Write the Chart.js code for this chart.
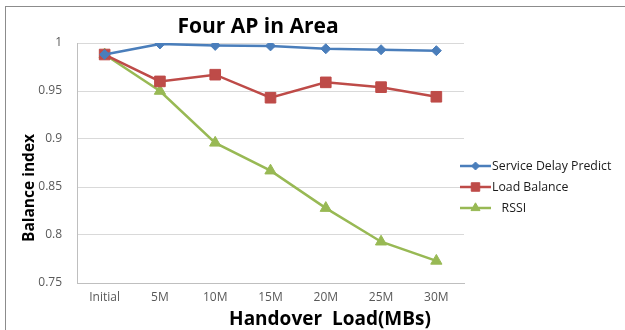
<!DOCTYPE html>
<html><head><meta charset="utf-8">
<script src="https://cdn.jsdelivr.net/npm/chart.js@4"></script>
<style>html,body{margin:0;padding:0;background:#fff}#wrap{width:625px;height:330px}</style>
</head><body><div id="wrap"><canvas id="c" width="625" height="330"></canvas></div>
<script>
const categories = ['Initial','5M','10M','15M','20M','25M','30M'];
const serviceDelayPredict = [0.988,0.999,0.9975,0.997,0.994,0.993,0.992];
const loadBalance = [0.988,0.960,0.967,0.943,0.959,0.954,0.944];
const rssi = [0.988,0.950,0.896,0.867,0.828,0.793,0.773];
const yTickLabels = ['0.75','0.8','0.85','0.9','0.95','1'];
const seriesNames = ['Service Delay Predict','Load Balance','   RSSI'];
const chartTitle = 'Four AP in Area';
const xTitle = 'Handover  Load(MBs)';
const yTitle = 'Balance index';

const FONT = '"Open Sans", Lato, sans-serif';

const decor = {
  id:'decor',
  beforeDraw(chart){
    const ctx = chart.ctx;
    ctx.save();
    ctx.strokeStyle = '#8c8c8c'; ctx.lineWidth = 1;
    ctx.strokeRect(5.5, 6.5, 700, 400);
    ctx.restore();
  },
  afterDraw(chart){
    const ctx = chart.ctx;
    ctx.save();
    ctx.fillStyle = '#000';
    ctx.textAlign = 'center'; ctx.textBaseline = 'middle';
    ctx.font = 'bold 21px ' + FONT;
    ctx.fillText(chartTitle, 258, 27);
    ctx.font = 'bold 19px ' + FONT;
    ctx.fillText(xTitle, 330, 320);
    ctx.translate(30, 188); ctx.rotate(-Math.PI/2);
    ctx.font = 'bold 15.5px ' + FONT;
    ctx.fillText(yTitle, 0, 0);
    ctx.restore();
    // legend
    ctx.save();
    chart.data.datasets.forEach((ds, i) => {
      const y = 166 + i*21;
      ctx.strokeStyle = ds.borderColor; ctx.lineWidth = 2.5;
      ctx.beginPath(); ctx.moveTo(460, y); ctx.lineTo(491, y); ctx.stroke();
      ctx.fillStyle = ds.backgroundColor; ctx.strokeStyle = ds.borderColor; ctx.lineWidth = 1;
      Chart.helpers.drawPoint(ctx, {pointStyle: ds.pointStyle, radius: ds.pointRadius*0.8, rotation: 0, borderWidth: 1}, 475.5, y);
      ctx.fillStyle = '#1a1a1a';
      ctx.font = '12.3px ' + FONT;
      ctx.textAlign = 'left'; ctx.textBaseline = 'middle';
      ctx.fillText(ds.label, 492, y);
    });
    ctx.restore();
  }
};

new Chart(document.getElementById('c'), {
  type:'line',
  data:{
    labels: categories,
    datasets:[
      {label: seriesNames[0], data: serviceDelayPredict, borderColor:'#4A7EBB', backgroundColor:'#4A7EBB', pointStyle:'rectRot', pointRadius:5, borderWidth:2.5, pointBorderWidth:1},
      {label: seriesNames[1], data: loadBalance, borderColor:'#BE4B48', backgroundColor:'#BE4B48', pointStyle:'rect', pointRadius:7.5, borderWidth:2.5, pointBorderWidth:1},
      {label: seriesNames[2], data: rssi, borderColor:'#98B954', backgroundColor:'#98B954', pointStyle:'triangle', pointRadius:6.5, borderWidth:2.5, pointBorderWidth:1}
    ]
  },
  options:{
    responsive:false, animation:false,
    layout:{padding:{left:0, right:161, top:43, bottom:0}},
    plugins:{legend:{display:false}, title:{display:false}, tooltip:{enabled:false}},
    elements:{line:{tension:0}},
    scales:{
      x:{
        offset:true,
        grid:{display:false, drawTicks:false},
        border:{display:true, color:'#bfbfbf', width:1},
        ticks:{color:'#595959', font:{family:FONT, size:12}, padding:7, maxRotation:0, autoSkip:false},
        afterFit(s){ s.height = 330 - 283 - 0; }
      },
      y:{
        min:0.75, max:1,
        grid:{color:'#d9d9d9', drawTicks:false},
        border:{display:true, color:'#bfbfbf', width:1},
        ticks:{stepSize:0.05, color:'#595959', font:{family:FONT, size:12}, padding:15,
          callback:(v,i)=> yTickLabels[i]},
        afterFit(s){ s.width = 77; }
      }
    }
  },
  plugins:[decor]
});
</script></body></html>
